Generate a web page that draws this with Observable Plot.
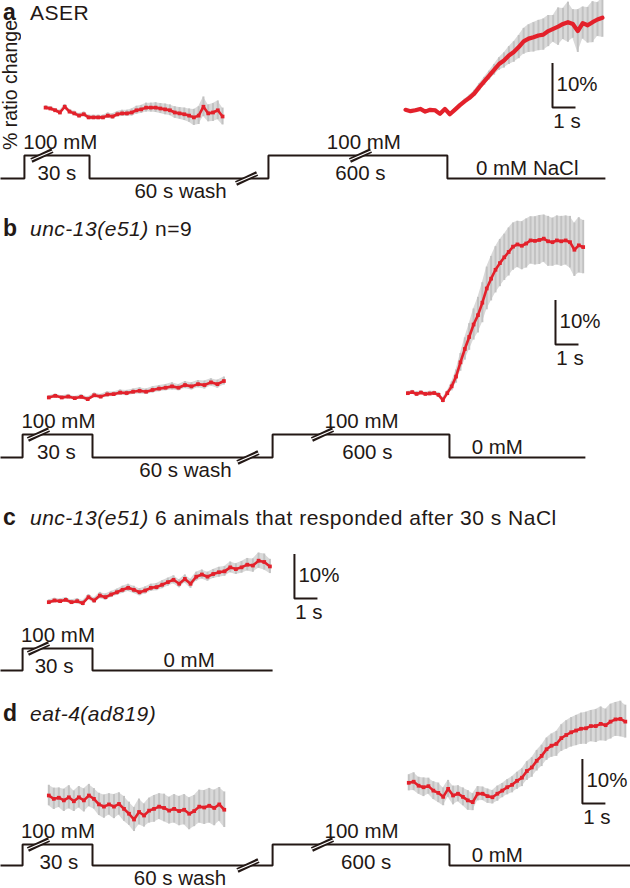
<!DOCTYPE html>
<html>
<head>
<meta charset="utf-8">
<script src="https://cdn.jsdelivr.net/npm/d3@7"></script>
<script src="https://cdn.jsdelivr.net/npm/@observablehq/plot@0.6"></script>
<style>
  html, body { margin: 0; padding: 0; background: #fff; }
  #figure { position: relative; width: 630px; height: 888px; overflow: hidden;
            font-family: "Liberation Sans", Arial, Helvetica, sans-serif; color: #231815; }
  .panel { position: absolute; left: 0; width: 630px; }
  .panel svg { position: absolute; left: 0; top: 0; }
  .title { position: absolute; left: 3px; font-size: 21px; line-height: 24px;
           letter-spacing: 0.5px; white-space: nowrap; }
  .title b { font-size: 23px; letter-spacing: 0; display: inline-block; width: 27px; }
  .ylab { position: absolute; left: 0px; top: 20px; font-size: 19.5px; line-height: 20px;
          white-space: nowrap; writing-mode: vertical-rl; transform: rotate(180deg); }
</style>
</head>
<body>
<div id="figure"></div>
<script>
// ---------------- DATA ----------------
// Time in seconds, responses in % ratio change (0 = start of first trace in each panel)

// Panel a: ASER
const a1Start = 1.96, a1Step = 0.208;
const a1Mean = [0.2, 0, -0.4, -0.9, 0.4, -0.7, -1.1, -1.6, -1.3, -2.0,
                -2.0, -2.0, -2.0, -1.6, -1.8, -1.3, -1.1, -1.1, -0.9, -0.4,
                -0.2, 0.2, 0.2, 0.2, 0, -0.2, -0.4, -0.9, -1.1, -1.3,
                -1.6, -2.0, -1.6, 0.4, -1.1, -0.9, -0.4, -1.8];
const a1Sem  = [0.4, 0.4, 0.4, 0.5, 0.5, 0.5, 0.5, 0.5, 0.5, 0.5,
                0.5, 0.5, 0.5, 0.6, 0.6, 0.6, 0.7, 0.7, 0.8, 0.9,
                0.9, 1.0, 1.0, 1.1, 1.1, 1.2, 1.2, 1.3, 1.3, 1.4,
                1.5, 1.8, 2.0, 2.2, 1.9, 2.0, 2.1, 1.9];
const a2Start = 17.61, a2Step = 0.214;
const a2Mean = [-0.3, -0.6, -0.4, -0.1, -0.7, -0.3, -0.4, -1.2, -0.1, -1.3,
                -0.3, 0.7, 1.6, 2.4, 3.4, 4.8, 6.1, 7.4, 8.7, 10.0,
                10.8, 11.9, 12.7, 13.8, 15.1, 15.7, 16.0, 16.4, 16.6, 17.4,
                17.9, 18.4, 19.0, 19.4, 19.0, 17.4, 19.2, 18.7, 19.4, 20.0, 20.4];
const a2Sem  = [0.3, 0.3, 0.3, 0.3, 0.3, 0.3, 0.3, 0.3, 0.3, 0.3,
                0.3, 0.4, 0.5, 0.6, 0.7, 0.8, 0.9, 1.0, 1.2, 1.4,
                1.7, 2.0, 2.3, 2.6, 2.9, 3.1, 3.3, 3.4, 3.5, 3.5,
                3.0, 4.2, 3.5, 4.5, 3.2, 4.8, 3.6, 4.0, 4.6, 3.8, 4.4];

// Panel b: unc-13(e51) n=9
const b1Start = 2.1, b1Step = 0.282;
const b1Mean = [0, 0.37, 0, 0.2, -0.15, 0.15, -0.37, 0.5, 0.2, 0.7,
                0.75, 1.1, 1.0, 1.3, 1.5, 1.3, 1.7, 2.0, 2.2, 2.5,
                2.2, 2.8, 2.5, 3.0, 2.8, 3.4, 3.0, 3.7];
const b1Sem  = [0.4, 0.4, 0.4, 0.5, 0.4, 0.5, 0.5, 0.5, 0.5, 0.6,
                0.5, 0.6, 0.6, 0.6, 0.7, 0.6, 0.7, 0.7, 0.7, 0.8,
                0.7, 0.8, 0.8, 0.8, 0.9, 0.8, 0.9, 0.9];
const b2Start = 17.71, b2Step = 0.1906;
const b2Mean = [0.97, 1.2, 0.8, 1.1, 0.8, 0.9, 1.0, 0.6, -0.6, 0.97,
                2.5, 4.7, 7.9, 10.9, 13.6, 16.4, 18.5, 21.3, 24.5, 26.7,
                28.7, 30.2, 31.5, 32.7, 33.9, 34.4, 34.1, 34.6, 35.3, 35.2,
                35.4, 35.7, 35.1, 34.9, 35.3, 35.1, 35.3, 34.9, 33.2, 34.2, 33.8];
const b2Sem  = [0.4, 0.4, 0.5, 0.4, 0.4, 0.5, 0.4, 0.5, 0.6, 0.5,
                1.0, 1.5, 2.0, 2.5, 3.0, 3.5, 4.0, 4.5, 4.8, 5.0,
                5.2, 5.3, 5.2, 5.4, 5.3, 5.2, 5.4, 5.5, 5.3, 5.4,
                5.5, 5.3, 5.6, 5.4, 5.5, 5.6, 5.5, 5.8, 6.0, 6.2, 6.0];

// Panel c: unc-13(e51), 6 animals that responded after 30 s NaCl
const c1Start = 2.1, c1Step = 0.2465;
const c1Mean = [0.07, 0.45, 0.3, 0.6, 0.07, 0.3, -0.15, 1.2, 0.45, 1.57,
                1.2, 1.8, 2.3, 2.85, 3.3, 2.85, 2.3, 2.7, 3.3, 3.45,
                4.0, 4.57, 5.1, 4.2, 5.3, 4.2, 5.8, 6.3, 5.8, 6.4,
                6.8, 7.0, 7.9, 7.5, 7.9, 8.5, 8.3, 9.4, 9.1, 8.1];
const c1Sem  = [0.5, 0.5, 0.5, 0.5, 0.5, 0.6, 0.6, 0.6, 0.6, 0.7,
                0.7, 0.7, 0.7, 0.8, 0.8, 0.8, 0.8, 0.8, 0.8, 0.8,
                0.9, 0.9, 0.9, 0.9, 0.9, 1.0, 1.0, 1.0, 1.0, 1.0,
                1.1, 1.1, 1.2, 1.2, 1.3, 1.4, 1.5, 1.7, 1.8, 1.6];

// Panel d: eat-4(ad819)
const d1Start = 2.1, d1Step = 0.218;
const d1Mean = [0, -0.75, -0.5, -1.1, -0.4, -1.3, -0.4, -1.1, 0, -0.75,
                -2.0, -2.5, -2.0, -2.5, -1.9, -3.0, -4.1, -5.4, -3.7, -4.5,
                -3.4, -3.0, -2.5, -2.8, -3.4, -3.0, -3.5, -3.2, -4.1, -3.5,
                -2.5, -2.7, -2.3, -2.8, -2.0, -3.2];
const d1Sem  = [2.3, 2.4, 2.2, 2.5, 2.6, 2.3, 2.4, 2.6, 2.5, 2.3,
                2.5, 2.6, 2.4, 2.7, 2.5, 2.8, 2.6, 2.7, 2.9, 2.6,
                2.8, 3.0, 2.9, 3.1, 3.0, 3.2, 3.3, 3.4, 3.6, 3.5,
                3.7, 3.8, 3.9, 4.0, 3.8, 4.0];
const d2Start = 17.75, d2Step = 0.214;
const d2Mean = [2.85, 3.1, 2.2, 1.85, 2.1, 1.1, 0.6, -0.3, 1.5, 0,
                0.4, -0.3, -1.1, -1.5, 0.4, 0.4, -0.15, -0.4, 0.4, 1.1,
                1.85, 2.4, 3.3, 4.0, 5.5, 6.3, 7.8, 8.9, 10.4, 11.2,
                11.6, 12.9, 13.6, 14.2, 14.6, 15.0, 15.1, 15.6, 15.6, 16.1,
                15.8, 16.6, 17.1, 17.2, 16.6];
const d2Sem  = [1.8, 2.0, 1.9, 2.1, 1.8, 2.0, 2.2, 2.0, 1.9, 2.1,
                1.8, 2.0, 2.2, 1.9, 1.6, 1.5, 1.6, 1.5, 1.7, 1.6,
                1.7, 1.8, 1.9, 2.0, 2.1, 2.2, 2.3, 2.4, 2.5, 2.6,
                2.8, 3.0, 3.2, 3.3, 3.4, 3.5, 3.6, 3.5, 3.7, 3.8,
                3.6, 3.9, 3.8, 4.0, 3.7];

// Scale bars: [time (s), base (%)] — each is 1 s by 10 %
const barA = [24.0, 0.2];
const barB = [24.13, 11.9];
const barC = [12.78, 0.9];
const barD = [25.3, -1.8];

// NaCl stimulus schematics: [time (s, schematic), concentration (mM)]
const stimA = [[0, 0], [1.04, 100], [3.87, 0], [11.65, 100], [19.43, 0], [26.3, 0]];
const stimB = [[0, 0], [0.96, 100], [4.0, 0], [11.83, 100], [19.52, 0], [25.43, 0]];
const stimC = [[0, 0], [0.96, 100], [4.0, 0], [11.83, 0]];
const stimD = [[0, 0], [0.96, 100], [4.0, 0], [11.83, 100], [19.52, 0], [27.39, 0]];

// Axis breaks "//" on the stimulus line: [time, concentration]
const breaksA = [[1.8, 100], [10.7, 0], [15.65, 100]];
const breaksB = [[1.65, 100], [10.76, 0], [14.0, 100]];
const breaksC = [[1.65, 100]];
const breaksD = [[1.65, 100], [10.76, 0], [14.0, 100]];

// Stimulus labels: [text, time, concentration level, side of the line]
const labelsA = [["100 mM", 2.6, 100, "above"], ["30 s", 2.45, 100, "below"], ["60 s wash", 7.83, 0, "below"],
                 ["100 mM", 15.8, 100, "above"], ["600 s", 15.65, 100, "below"], ["0 mM NaCl", 22.9, 0, "above"]];
const labelsB = [["100 mM", 2.52, 100, "above"], ["30 s", 2.43, 100, "below"], ["60 s wash", 8.04, 0, "below"],
                 ["100 mM", 15.7, 100, "above"], ["600 s", 15.95, 100, "below"], ["0 mM", 21.6, 0, "above"]];
const labelsC = [["100 mM", 2.5, 100, "above"], ["30 s", 2.33, 100, "below"], ["0 mM", 8.2, 0, "above"]];
const labelsD = [["100 mM", 2.5, 100, "above"], ["30 s", 2.54, 100, "below"], ["60 s wash", 7.8, 0, "below"],
                 ["100 mM", 15.7, 100, "above"], ["600 s", 15.9, 100, "below"], ["0 mM", 21.6, 0, "above"]];

const titleA = ["a", "", "ASER"];
const titleB = ["b", "unc-13(e51)", " n=9"];
const titleC = ["c", "unc-13(e51)", " 6 animals that responded after 30 s NaCl"];
const titleD = ["d", "eat-4(ad819)", ""];
const yLabel = "% ratio change";

// ---------------- STYLE / LAYOUT ----------------
const INK = "#231815", RED = "#e3212b", GREY = "#c2c2c2", GREY_BAND = "#d9d9d9";
const FONT = "'Liberation Sans', Arial, Helvetica, sans-serif";
const FS = 20.5;
const PX_PER_S = 23;           // 1 s scale bar length
const PX_PER_10PCT = 44.5;     // 10 % scale bar length
const X_DOMAIN = [0, 630 / PX_PER_S];

const panels = [
  {top: 0,   height: 200, zero: 108, high: 155, low: 178, titleTop: 0,
   traces: [{mean: a1Mean, sem: a1Sem, start: a1Start, step: a1Step, thick: false},
            {mean: a2Mean, sem: a2Sem, start: a2Start, step: a2Step, thick: true}],
   bar: barA, stim: stimA, breaks: breaksA, labels: labelsA, title: titleA, ylabel: true},
  {top: 200, height: 278, zero: 197, high: 234, low: 257, titleTop: 16,
   traces: [{mean: b1Mean, sem: b1Sem, start: b1Start, step: b1Step},
            {mean: b2Mean, sem: b2Sem, start: b2Start, step: b2Step}],
   bar: barB, stim: stimB, breaks: breaksB, labels: labelsB, title: titleB},
  {top: 478, height: 207, zero: 124, high: 170, low: 192, titleTop: 27,
   traces: [{mean: c1Mean, sem: c1Sem, start: c1Start, step: c1Step}],
   bar: barC, stim: stimC, breaks: breaksC, labels: labelsC, title: titleC},
  {top: 685, height: 203, zero: 110, high: 159, low: 180, titleTop: 16,
   traces: [{mean: d1Mean, sem: d1Sem, start: d1Start, step: d1Step},
            {mean: d2Mean, sem: d2Sem, start: d2Start, step: d2Step}],
   bar: barD, stim: stimD, breaks: breaksD, labels: labelsD, title: titleD}
];

const svgStyle = {overflow: "visible", background: "transparent", fontFamily: FONT, color: INK};

function tracePlot(p) {
  const marks = [];
  for (const tr of p.traces) {
    const rows = tr.mean.map((m, i) => ({t: tr.start + i * tr.step, m, lo: m - tr.sem[i], hi: m + tr.sem[i]}));
    marks.push(Plot.areaY(rows, {x: "t", y1: "lo", y2: "hi", fill: GREY_BAND}));
    marks.push(Plot.ruleX(rows, {x: "t", y1: "lo", y2: "hi", stroke: GREY, strokeWidth: 2}));
    marks.push(Plot.line(rows, {x: "t", y: "m", stroke: RED, strokeWidth: tr.thick ? 4.2 : 2.6, strokeLinejoin: "round"}));
    if (!tr.thick) marks.push(Plot.dot(rows, {x: "t", y: "m", symbol: "square", r: 2.1, fill: RED}));
  }
  const [bt, bv] = p.bar;
  marks.push(Plot.line([{t: bt, v: bv + 10}, {t: bt, v: bv}, {t: bt + 1, v: bv}],
    {x: "t", y: "v", stroke: INK, strokeWidth: 2, strokeLinejoin: "miter", strokeLinecap: "butt"}));
  marks.push(Plot.text([{t: bt, v: bv + 5.2}], {x: "t", y: "v", text: () => "10%", textAnchor: "start",
    dx: 4, fontSize: FS, fill: INK}));
  marks.push(Plot.text([{t: bt + 0.5, v: bv}], {x: "t", y: "v", text: () => "1 s",
    dx: 3, dy: 14, fontSize: FS, fill: INK}));
  return Plot.plot({
    width: 630, height: p.height, margin: 0,
    x: {domain: X_DOMAIN, axis: null},
    y: {domain: [0, 10], range: [p.zero, p.zero - PX_PER_10PCT], axis: null},
    style: svgStyle,
    marks
  });
}

function stimPlot(p) {
  const steps = p.stim.map(([t, c]) => ({t, c}));
  const pxPerMM = (p.low - p.high) / 100;
  const half = 5 / pxPerMM;            // half height of a break mark, in mM
  const halfT = 10.5 / PX_PER_S;       // half width of a break mark, in s
  const br = p.breaks.map(([t, c]) => ({t, c}));
  const labs = p.labels.map(([label, t, c, side]) => ({label, t, c, side}));
  const textOpts = {x: "t", y: "c", text: "label", fontSize: FS, fill: INK};
  const pick = (side, c) => labs.filter(d => d.side === side && d.c === c);
  return Plot.plot({
    width: 630, height: p.height, margin: 0,
    x: {domain: X_DOMAIN, axis: null},
    y: {domain: [0, 100], range: [p.low, p.high], axis: null},
    style: svgStyle,
    marks: [
      Plot.line(steps, {x: "t", y: "c", curve: "step-after", stroke: INK, strokeWidth: 2,
                        strokeLinejoin: "miter", strokeLinecap: "butt"}),
      Plot.link(br, {x1: d => d.t - halfT, x2: d => d.t + halfT, y1: d => d.c - half, y2: d => d.c + half,
                     stroke: INK, strokeWidth: 5}),
      Plot.link(br, {x1: d => d.t - halfT - 0.1, x2: d => d.t + halfT + 0.1, y1: d => d.c - half * 1.1, y2: d => d.c + half * 1.1,
                     stroke: "white", strokeWidth: 1.2}),
      Plot.text(pick("above", 100), {...textOpts, dy: -13}),
      Plot.text(pick("above", 0), {...textOpts, dy: -10.5}),
      Plot.text(pick("below", 100), {...textOpts, dy: 17.5}),
      Plot.text(pick("below", 0), {...textOpts, dy: 13})
    ]
  });
}

const fig = document.getElementById("figure");
for (const p of panels) {
  const div = document.createElement("div");
  div.className = "panel";
  div.style.top = p.top + "px";
  div.style.height = p.height + "px";
  div.appendChild(stimPlot(p));
  div.appendChild(tracePlot(p));
  const t = document.createElement("div");
  t.className = "title";
  t.style.top = p.titleTop + "px";
  const [letter, gene, rest] = p.title;
  const b = document.createElement("b"); b.textContent = letter; t.appendChild(b);
  if (gene) { const i = document.createElement("i"); i.textContent = gene; t.appendChild(i); }
  if (rest) t.appendChild(document.createTextNode(rest));
  div.appendChild(t);
  if (p.ylabel) {
    const y = document.createElement("div");
    y.className = "ylab";
    y.textContent = yLabel;
    div.appendChild(y);
  }
  fig.appendChild(div);
}
</script>
</body>
</html>
